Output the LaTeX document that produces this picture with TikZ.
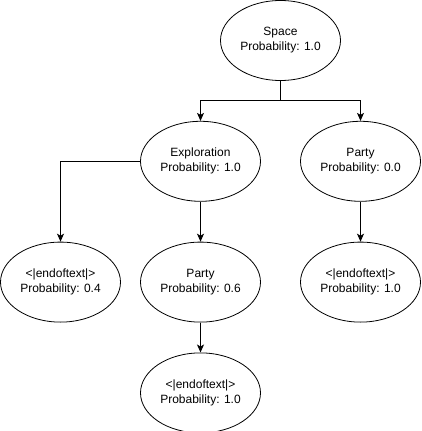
\documentclass[tikz,border=0pt]{standalone}
\usepackage{fontspec}
\setmainfont{Liberation Sans}
\usetikzlibrary{shapes.geometric,positioning,arrows.meta}
\tikzset{token/.style = {ellipse, draw=black, line width=0.8pt, minimum width=120pt,
    minimum height=80pt, inner sep=0pt, align=center,
    font=\fontsize{12pt}{15pt}\selectfont},
  link/.style = {line width=1pt, -{Stealth[length=8pt,width=7pt,inset=2pt]}}}

\begin{document}
\begin{tikzpicture}
  \useasboundingbox (0pt,0pt) rectangle (421pt,-431pt);

  \node[token] (space) at (280.5pt,-40.5pt) {Space\\Probability: 1.0};

  \node[token] (explor) [below = 40pt of space, xshift=-80pt] {Exploration\\Probability: 1.0};
  \node[token] (party1) [below = 40pt of space, xshift=80pt] {Party\\Probability: 0.0};

  \node[token] (eot1) [below = 40pt of explor, xshift=-140pt] {<|endoftext|>\\Probability: 0.4};
  \node[token] (party2) [below = 40pt of explor] {Party\\Probability: 0.6};
  \node[token] (eot2) [below = 40pt of party1] {<|endoftext|>\\Probability: 1.0};

  \node[token] (eot3) [below = 30pt of party2] {<|endoftext|>\\Probability: 1.0};

  \draw[link] (space) -- ++(0,-60pt) -| (explor);
  \draw[link] (space) -- ++(0,-60pt) -| (party1);
  \draw[link] (explor) -| (eot1);
  \draw[link] (explor) -- (party2);
  \draw[link] (party1) -- (eot2);
  \draw[link] (party2) -- (eot3);

\end{tikzpicture}
\end{document}
